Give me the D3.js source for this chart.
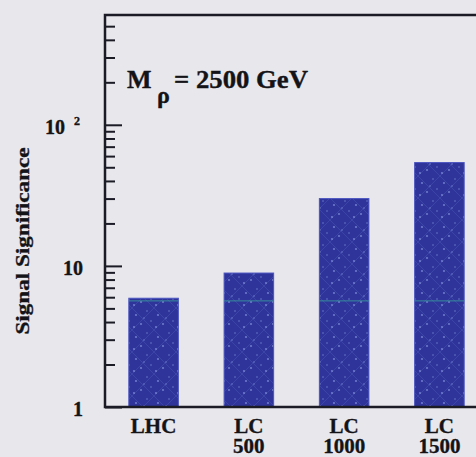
<!DOCTYPE html>
<html><head><meta charset="utf-8">
<script src="https://cdn.jsdelivr.net/npm/d3@7"></script>
<style>
html,body{margin:0;padding:0;background:#e8e7ec;}
svg{display:block;}
text{font-family:"Liberation Serif","Times New Roman",serif;font-weight:bold;fill:#141418;stroke:#141418;stroke-width:0.35px;}
</style></head><body>
<svg id="chart" width="476" height="457"></svg>
<script>
// Signal significance per collider option, log scale
const categories = ["LHC", "LC 500", "LC 1000", "LC 1500"];
const significance = [5.9, 8.9, 30, 54];
const majorTicks = [1, 10, 100];
const minorTicks = [2, 3, 4, 5, 6, 7, 8, 9, 20, 30, 40, 50, 60, 70, 80, 90, 200, 300, 400, 500];
const yDomain = [1, 600];
const yLabel = "Signal Significance";
const massSymbol = "M", massSub = "ρ", massValue = "= 2500 GeV";
const stripeLevel = 5.65;

const svg = d3.select("#chart");
const plot = {left: 105, right: 488, top: 15, bottom: 407};

const x = d3.scaleBand().domain(categories)
  .range([plot.left, plot.right]).paddingInner(0.48).paddingOuter(0.25);
const y = d3.scaleLog().domain(yDomain).range([plot.bottom, plot.top]);

// bar texture: dark blue with faint diagonal hatching and specks
const defs = svg.append("defs");
const pat = defs.append("pattern").attr("id", "barFill")
  .attr("patternUnits", "userSpaceOnUse").attr("width", 22).attr("height", 22);
pat.append("rect").attr("width", 22).attr("height", 22).attr("fill", "#2e349a");
pat.append("path").attr("d", "M0,0L22,22M22,0L0,22")
  .attr("stroke", "#6676d0").attr("stroke-width", 0.8).attr("stroke-opacity", 0.3);
[[4,7],[15,3],[9,16],[19,13],[2,19],[12,10]].forEach(([cx, cy], i) => {
  pat.append("circle").attr("cx", cx).attr("cy", cy).attr("r", i % 2 ? 0.8 : 1.1)
    .attr("fill", "#9fb0f0").attr("opacity", 0.55);
});

const data = categories.map((c, i) => ({cat: c, v: significance[i]}));

svg.append("g").selectAll("rect").data(data).join("rect")
  .attr("x", d => x(d.cat))
  .attr("width", x.bandwidth())
  .attr("y", d => y(d.v))
  .attr("height", d => y(yDomain[0]) - y(d.v))
  .attr("fill", "url(#barFill)")
  .attr("stroke", "#4b55c0").attr("stroke-width", 1);

// thin teal stripe running through the bars
svg.append("g").selectAll("line").data(data.filter(d => d.v > stripeLevel)).join("line")
  .attr("x1", d => x(d.cat)).attr("x2", d => x(d.cat) + x.bandwidth())
  .attr("y1", y(stripeLevel)).attr("y2", y(stripeLevel))
  .attr("stroke", "#3aa59a").attr("stroke-width", 1).attr("opacity", 0.8);

// frame
svg.append("path")
  .attr("d", `M${plot.right},${plot.top}H${plot.left}V${plot.bottom}H${plot.right}`)
  .attr("fill", "none").attr("stroke", "#1b1b26").attr("stroke-width", 2.5);

// y axis ticks pointing inward
const minorAxis = d3.axisLeft(y).tickValues(minorTicks).tickSize(-10).tickFormat("");
const majorAxis = d3.axisLeft(y).tickValues(majorTicks).tickSize(-17).tickPadding(22)
  .tickFormat(d => d === 100 ? "10" : String(d));
[minorAxis, majorAxis].forEach(ax => {
  const g = svg.append("g").attr("transform", `translate(${plot.left},0)`).call(ax);
  g.select(".domain").remove();
  g.selectAll(".tick line").attr("stroke", "#1b1b26").attr("stroke-width", 2);
  g.selectAll(".tick text").attr("font-size", 20).attr("dy", "0.42em")
    .attr("font-family", "Liberation Serif, serif").attr("fill", "#141418");
});
svg.selectAll(".tick text").filter(d => d === 100)
  .attr("x", -25)
  .append("tspan").attr("font-size", 12).attr("dx", 9).attr("dy", -9).text("2");

// y axis title
svg.append("text")
  .attr("transform", "translate(29,241) rotate(-90)")
  .attr("text-anchor", "middle").attr("font-size", 19)
  .attr("textLength", 187).attr("lengthAdjust", "spacingAndGlyphs")
  .text(yLabel);

// mass annotation
svg.append("text").attr("x", 127).attr("y", 88).attr("font-size", 26).text(massSymbol);
svg.append("text").attr("x", 157).attr("y", 103).attr("font-size", 24).text(massSub);
svg.append("text").attr("x", 174).attr("y", 88).attr("font-size", 26)
  .attr("textLength", 134).attr("lengthAdjust", "spacingAndGlyphs").text(massValue);

// category labels
svg.append("g").selectAll("text").data(categories).join("text")
  .attr("x", d => x(d) + x.bandwidth() / 2)
  .attr("y", 433).attr("text-anchor", "middle").attr("font-size", 21)
  .each(function(d) {
    d.split(" ").forEach((part, i) => {
      d3.select(this).append("tspan")
        .attr("x", x(d) + x.bandwidth() / 2).attr("dy", i ? 20 : 0).text(part);
    });
  });
</script>
</body></html>
